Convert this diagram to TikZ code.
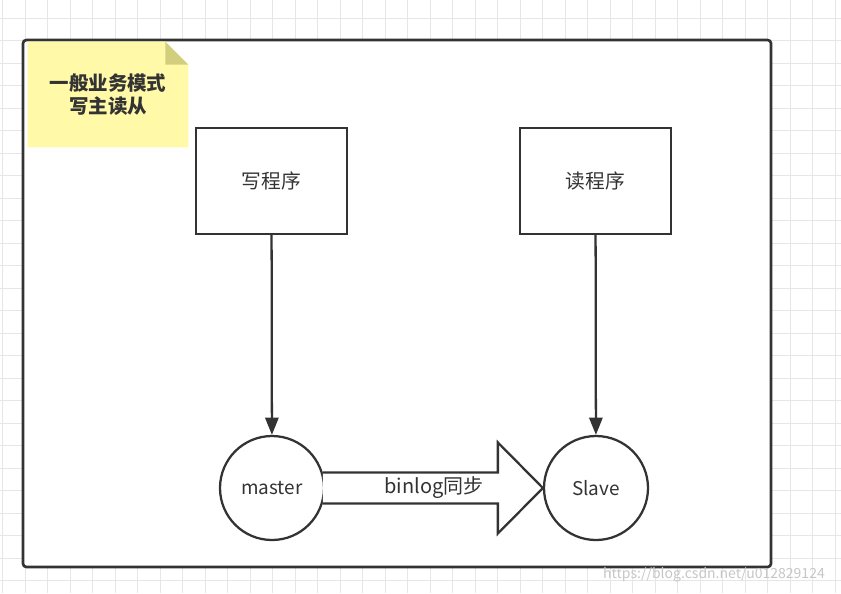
\documentclass[tikz,border=0pt]{standalone}
\usepackage{fontspec}
\setmainfont{Noto Sans CJK SC}
\usetikzlibrary{positioning, arrows.meta, calc}

\definecolor{ink}{HTML}{333333}
\definecolor{notefill}{HTML}{FFF9A8}
\definecolor{notefold}{HTML}{D2CE7E}
\definecolor{gridgray}{HTML}{E6E6E6}

\begin{document}
\begin{tikzpicture}[
    x=0.75pt, y=-0.75pt,
    gridline/.style={draw=gridgray, line width=0.75pt},
    progbox/.style={rectangle, draw=ink, line width=1.7pt, fill=white,
                    minimum width=113pt, minimum height=79.5pt,
                    text=ink, font=\fontsize{14.8}{17}\selectfont},
    db/.style={circle, draw=ink, line width=1.7pt, fill=white,
               minimum size=78pt, inner sep=0pt,
               text=ink, font=\fontsize{14.2}{16}\selectfont},
    arrow/.style={-{Triangle[length=13pt, width=10pt]}, draw=ink, line width=1.7pt},
    fatarrow/.style={draw=ink, line width=1.7pt, fill=white, line join=miter},
    label/.style={text=ink, font=\fontsize{15}{17}\selectfont}
]
\useasboundingbox (0,0) rectangle (841,593);

% background grid
\foreach \gx in {2.5,25,...,841}
  \draw[gridline] (\gx,0) -- (\gx,593);
\foreach \gy in {18,40.5,...,593}
  \draw[gridline] (0,\gy) -- (841,\gy);

\node[draw=ink, line width=2pt, fill=white, rounded corners=2.5pt,
      minimum width=561pt, minimum height=395.25pt] (frame) at (397,303.5) {};

% sticky note
\node[minimum width=120pt, minimum height=78.75pt, inner sep=0pt] (note) at (108,94.5) {};
\fill[notefill] (note.north west) -- ($(note.north east)+(-23,0)$)
    -- ($(note.north east)+(0,23)$) -- (note.south east) -- (note.south west) -- cycle;
\fill[notefold] ($(note.north east)+(-23,0)$) -- ($(note.north east)+(0,23)$)
    -- ($(note.north east)+(-23,23)$) -- cycle;
\node[text=ink, font=\fontsize{14.6}{17}\selectfont\bfseries, align=center]
     (notetext) at (note) {一般业务模式\\写主读从};

\node[progbox] (writer) at (271.5,181) {写程序};
\node[progbox] (reader) at (595.5,181) {读程序};
\node[db] (master) at (272,488) {master};
\node[db] (slave) at (596,488) {Slave};

\draw[arrow] (writer) -- (master);
\draw[arrow] (reader) -- (slave);

\coordinate (neck) at ($(slave.west)+(-45,0)$);
\draw[fatarrow] (master.17) -- (master.17 -| neck) -- ++(0,-30) -- (slave.west)
    -- ($(neck)+(0,45.5)$) -- ++(0,-30) -- (master.-17);
\node[label] (sync) at ($(master.east)!0.5!(slave.west)$) {binlog同步};

\node[text=gray!45, font=\fontsize{10.5}{12}\selectfont] (mark) at (714,575)
     {https://blog.csdn.net/u012829124};
\end{tikzpicture}
\end{document}
